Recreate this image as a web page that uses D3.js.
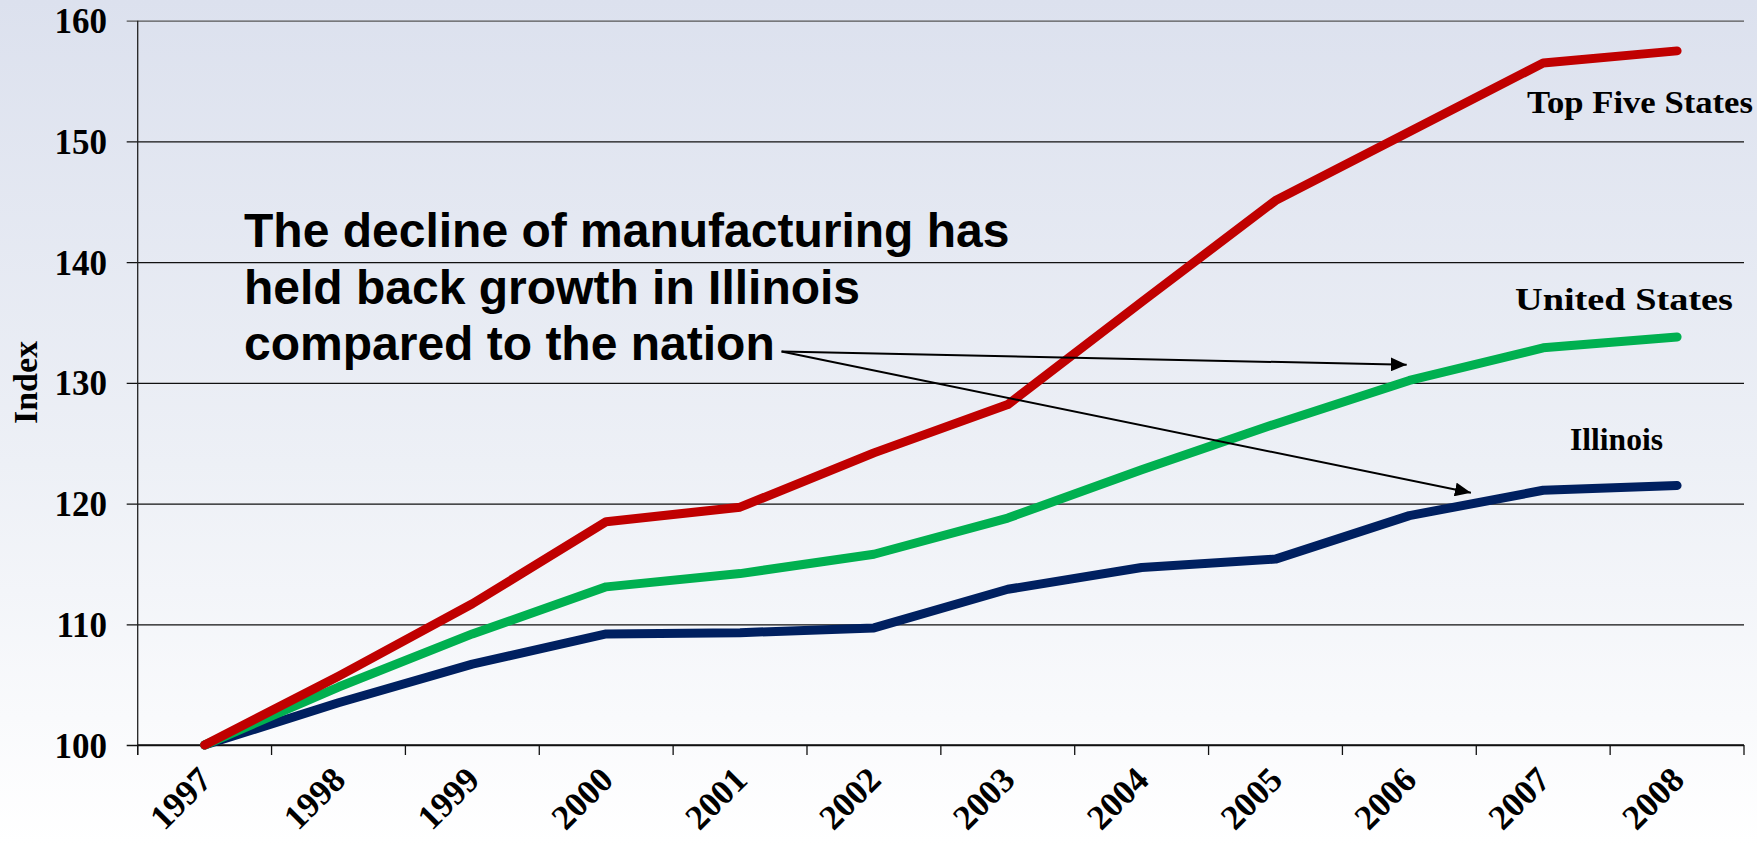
<!DOCTYPE html>
<html>
<head>
<meta charset="utf-8">
<script src="https://cdn.jsdelivr.net/npm/d3@7"></script>
<style>
  body { margin: 0; overflow: hidden; }
  svg { display: block; }
</style>
</head>
<body>
<svg id="chart"></svg>
<script>
// values
const years = ["1997", "1998", "1999", "2000", "2001", "2002", "2003", "2004", "2005", "2006", "2007", "2008"];
const topFive = [100, 105.7, 111.7, 118.5, 119.7, 124.2, 128.2, 136.7, 145.1, 150.8, 156.5, 157.5];
const unitedStates = [100, 104.8, 109.2, 113.1, 114.2, 115.8, 118.8, 122.8, 126.6, 130.2, 132.9, 133.8];
const illinois = [100, 103.5, 106.7, 109.2, 109.3, 109.7, 112.9, 114.7, 115.4, 119.0, 121.1, 121.5];
const yTicks = [100, 110, 120, 130, 140, 150, 160];

const width = 1757, height = 844;
const margin = {top: 20.7, right: 13, bottom: 99, left: 137.7};
const serif = "'Times New Roman', 'Liberation Serif', serif";
const sans = "Arial, 'Liberation Sans', sans-serif";

const svg = d3.select("#chart")
    .attr("width", width)
    .attr("height", height);

// soft blue-grey to white background
const grad = svg.append("defs").append("linearGradient")
    .attr("id", "bg").attr("x1", 0).attr("y1", 0).attr("x2", 0).attr("y2", 1);
grad.append("stop").attr("offset", "0%").attr("stop-color", "#dce1ee");
grad.append("stop").attr("offset", "55%").attr("stop-color", "#edf0f6");
grad.append("stop").attr("offset", "100%").attr("stop-color", "#ffffff");

svg.select("defs").append("marker")
    .attr("id", "arrow")
    .attr("markerUnits", "userSpaceOnUse")
    .attr("viewBox", "0 0 16 14")
    .attr("refX", 16).attr("refY", 7)
    .attr("markerWidth", 16).attr("markerHeight", 14)
    .attr("orient", "auto")
  .append("path")
    .attr("d", "M0,0 L16,7 L0,14 Z")
    .attr("fill", "#000");

svg.append("rect")
    .attr("width", width).attr("height", height)
    .attr("fill", "url(#bg)");

const x = d3.scaleBand()
    .domain(years)
    .range([margin.left, width - margin.right]);

const y = d3.scaleLinear()
    .domain([100, 160])
    .range([height - margin.bottom, margin.top]);

// continuous year scale for annotations
const xYear = d3.scaleLinear()
    .domain([1997, 2008])
    .range([x("1997") + x.bandwidth() / 2, x("2008") + x.bandwidth() / 2]);

// gridlines + left ticks
svg.append("g")
    .attr("transform", `translate(${margin.left},0)`)
    .call(d3.axisLeft(y).tickValues(yTicks).tickSize(-(width - margin.left - margin.right)).tickSizeOuter(0).tickFormat(""))
    .call(g => g.select(".domain").remove())
    .call(g => g.selectAll(".tick line")
        .attr("x1", -11)
        .attr("stroke", (d) => d === 160 ? "#555" : "#111")
        .attr("stroke-width", 1.3));

// y tick labels
svg.append("g")
    .selectAll("text")
    .data(yTicks)
    .join("text")
    .attr("x", 107)
    .attr("y", d => y(d))
    .attr("dy", "0.36em")
    .attr("text-anchor", "end")
    .style("font-family", serif)
    .style("font-weight", "bold")
    .style("font-size", "35px")
    .text(d => d);

// y axis line
svg.append("line")
    .attr("x1", margin.left).attr("x2", margin.left)
    .attr("y1", y(160)).attr("y2", y(100) + 10)
    .attr("stroke", "#222").attr("stroke-width", 1.3);

// x axis line
svg.append("line")
    .attr("x1", margin.left).attr("x2", width - margin.right)
    .attr("y1", y(100)).attr("y2", y(100))
    .attr("stroke", "#111").attr("stroke-width", 1.5);

// x tick marks at category boundaries
const boundaries = years.map(d => x(d)).concat([x(years[years.length - 1]) + x.bandwidth()]);
svg.append("g")
    .selectAll("line")
    .data(boundaries)
    .join("line")
    .attr("x1", d => d).attr("x2", d => d)
    .attr("y1", y(100)).attr("y2", y(100) + 10)
    .attr("stroke", "#111").attr("stroke-width", 1.3);

// rotated x labels
svg.append("g")
    .selectAll("text")
    .data(years)
    .join("text")
    .attr("transform", d => `translate(${x(d) + x.bandwidth() / 2 + 9},${y(100) + 37}) rotate(-45)`)
    .attr("text-anchor", "end")
    .style("font-family", serif)
    .style("font-weight", "bold")
    .style("font-size", "35px")
    .text(d => d);

// y axis title
svg.append("text")
    .attr("transform", `translate(37,${(339 + 426) / 2}) rotate(-90)`)
    .attr("text-anchor", "middle")
    .style("font-family", serif)
    .style("font-weight", "bold")
    .style("font-size", "34px")
    .text("Index");

// lines
const series = [
    {name: "Illinois", values: illinois, color: "#002060"},
    {name: "United States", values: unitedStates, color: "#00b050"},
    {name: "Top Five States", values: topFive, color: "#c00000"}
];

const line = d3.line()
    .x((d, i) => x(years[i]) + x.bandwidth() / 2)
    .y(d => y(d));

svg.append("g")
    .selectAll("path")
    .data(series)
    .join("path")
    .attr("d", d => line(d.values))
    .attr("fill", "none")
    .attr("stroke", d => d.color)
    .attr("stroke-width", 9)
    .attr("stroke-linecap", "round")
    .attr("stroke-linejoin", "round");

// series labels
const labelStyle = sel => sel
    .style("font-family", serif)
    .style("font-weight", "bold")
    .style("font-size", "32px")
    .attr("lengthAdjust", "spacingAndGlyphs");

svg.append("text").call(labelStyle)
    .attr("x", 1527).attr("y", 113)
    .attr("textLength", 226)
    .text("Top Five States");

svg.append("text").call(labelStyle)
    .attr("x", 1515).attr("y", 310)
    .attr("textLength", 218)
    .text("United States");

svg.append("text").call(labelStyle)
    .attr("x", 1570).attr("y", 450)
    .attr("textLength", 93)
    .text("Illinois");

// annotation
const note = ["The decline of manufacturing has", "held back growth in Illinois", "compared to the nation"];
svg.append("g")
    .selectAll("text")
    .data(note)
    .join("text")
    .attr("x", 244)
    .attr("y", (d, i) => 247 + i * 56.5)
    .style("font-family", sans)
    .style("font-weight", "bold")
    .style("font-size", "48px")
    .text(d => d);

const arrowStart = [2001.31, 132.6];
const arrowEnds = [[2005.98, 131.5], [2006.46, 120.9]];
svg.append("g")
    .selectAll("line")
    .data(arrowEnds)
    .join("line")
    .attr("x1", xYear(arrowStart[0])).attr("y1", y(arrowStart[1]))
    .attr("x2", d => xYear(d[0])).attr("y2", d => y(d[1]))
    .attr("stroke", "#000")
    .attr("stroke-width", 2)
    .attr("marker-end", "url(#arrow)");
</script>
</body>
</html>
